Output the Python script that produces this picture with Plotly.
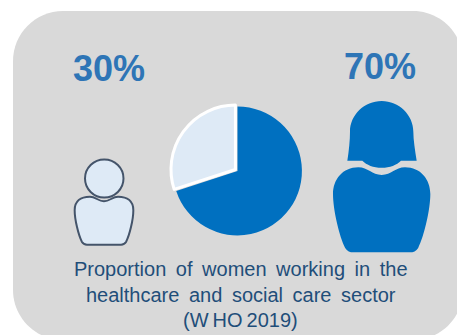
import plotly.graph_objects as go

W, H = 457, 335

# Share of each group in the sector
groups = ["Women", "Men"]
shares = [70, 30]
share_labels = ["70%", "30%"]
caption_lines = [
    "Proportion\u2009 of\u2009 women\u2009 working\u2009 in\u2009 the",
    "healthcare\u2009 and\u2009 social\u2009 care\u2009 sector",
    "(W\u2009HO\u20092019)",
]

PANEL = "#D9D9D9"
BLUE = "#0070C0"
PALE = "#DEEAF6"
OUTLINE = "#44546A"
HEADING = "#2E75B6"
CAPTION = "#1F4E79"


def X(v):
    return v / W


def Y(v):
    return 1 - v / H


def path(ox, oy, scale, start, *curves):
    """SVG path in paper units from pixel-style points; curves are 3-point beziers."""
    def pt(p):
        return f"{X(ox + p[0] / scale):.5f},{Y(oy + p[1] / scale):.5f}"
    d = "M" + pt(start)
    for seg in curves:
        if len(seg) == 1:
            d += " L" + pt(seg[0])
        else:
            d += " C" + " ".join(pt(p) for p in seg)
    return d + " Z"


def rounded_panel(l, t, r, b, rad):
    k = rad * 0.45
    return path(0, 0, 1, (l + rad, t),
                [(r - rad, t)],
                [(r - k, t), (r, t + k), (r, t + rad)],
                [(r, b - rad)],
                [(r, b - k), (r - k, b), (r - rad, b)],
                [(l + rad, b)],
                [(l + k, b), (l, b - k), (l, b - rad)],
                [(l, t + rad)],
                [(l, t + k), (l + k, t), (l + rad, t)])


# Torso outline shared by both figures, drawn symmetrically about cx
def torso(ox, oy, s, cx, top, dip, h, bottom, widest):
    mid = top + widest * h
    def side(sign):
        return [
            [(cx + sign * 0.2 * h, dip), (cx + sign * 0.28 * h, top), (cx + sign * 0.48 * h, top)],
            [(cx + sign * 0.8 * h, top), (cx + sign * h, mid - 0.3 * h), (cx + sign * h, mid)],
            [(cx + sign * h, mid + 0.32 * h), (cx + sign * 0.87 * h, bottom - 0.32 * h), (cx + sign * 0.75 * h, bottom - 0.09 * h)],
            [(cx + sign * 0.71 * h, bottom - 0.02 * h), (cx + sign * 0.65 * h, bottom), (cx + sign * 0.58 * h, bottom)],
        ]
    left = side(-1)
    # Mirror the left side, walking it backwards from the bottom edge
    right = [
        [(cx + 0.58 * h, bottom)],
        [(cx + 0.65 * h, bottom), (cx + 0.71 * h, bottom - 0.02 * h), (cx + 0.75 * h, bottom - 0.09 * h)],
        [(cx + 0.87 * h, bottom - 0.32 * h), (cx + h, mid + 0.32 * h), (cx + h, mid)],
        [(cx + h, mid - 0.3 * h), (cx + 0.8 * h, top), (cx + 0.48 * h, top)],
        [(cx + 0.28 * h, top), (cx + 0.2 * h, dip), (cx, dip)],
    ]
    return path(ox, oy, s, (cx, dip), *left, *right)


shapes = [
    dict(type="path", xref="paper", yref="paper", layer="below", line_width=0,
         fillcolor=PANEL, path=rounded_panel(13, 11, 463, 340, 50)),
    # Man: head and torso
    dict(type="circle", xref="paper", yref="paper", layer="below",
         x0=X(85), x1=X(123.5), y0=Y(197.5), y1=Y(159.5),
         fillcolor=PALE, line=dict(color=OUTLINE, width=2)),
    dict(type="path", xref="paper", yref="paper", layer="below",
         fillcolor=PALE, line=dict(color=OUTLINE, width=2),
         path=torso(65, 150, 3, 117, 140, 154, 88, 284, 0.46)),
    # Woman: hair and torso
    dict(type="path", xref="paper", yref="paper", layer="below", line_width=0, fillcolor=BLUE,
         path=path(325, 95, 3, (170, 18),
                   [(118, 18), (75, 60), (75, 110)],
                   [(75, 135), (72, 165), (67, 197)],
                   [(112, 197)],
                   [(125, 210), (145, 218), (170, 218)],
                   [(195, 218), (215, 210), (228, 197)],
                   [(275, 197)],
                   [(270, 165), (265, 135), (265, 110)],
                   [(265, 60), (222, 18), (170, 18)])),
    dict(type="path", xref="paper", yref="paper", layer="below", line_width=0, fillcolor=BLUE,
         path=torso(325, 95, 3, 170, 217, 240, 146, 472, 0.55)),
]

annotations = [
    dict(text=f"<b>{share_labels[1]}</b>", x=X(109), y=Y(68.5), font=dict(size=36, color=HEADING)),
    dict(text=f"<b>{share_labels[0]}</b>", x=X(380.3), y=Y(66.5), font=dict(size=36, color=HEADING)),
]
for line, cy in zip(caption_lines, [269, 295, 320]):
    annotations.append(dict(text=line, x=X(240.5), y=Y(cy), font=dict(size=20, color=CAPTION)))
for a in annotations:
    a.update(xref="paper", yref="paper", xanchor="center", yanchor="middle", showarrow=False)

pie = go.Pie(
    labels=groups,
    values=shares,
    sort=False,
    direction="clockwise",
    rotation=0,
    pull=[0, 0.04],
    marker=dict(colors=[BLUE, PALE], line=dict(color=["rgba(0,0,0,0)", "#FFFFFF"], width=[0, 3])),
    textinfo="none",
    hoverinfo="label+percent",
    showlegend=False,
    domain=dict(x=[X(170.4), X(304.6)], y=[Y(238), Y(104)]),
)

fig = go.Figure(pie)
fig.update_layout(
    width=W,
    height=H,
    margin=dict(l=0, r=0, t=0, b=0),
    paper_bgcolor="#FFFFFF",
    font=dict(family="Liberation Sans, Arial, sans-serif"),
    shapes=shapes,
    annotations=annotations,
)
fig.write_html("out.html", config=dict(displayModeBar=False))
